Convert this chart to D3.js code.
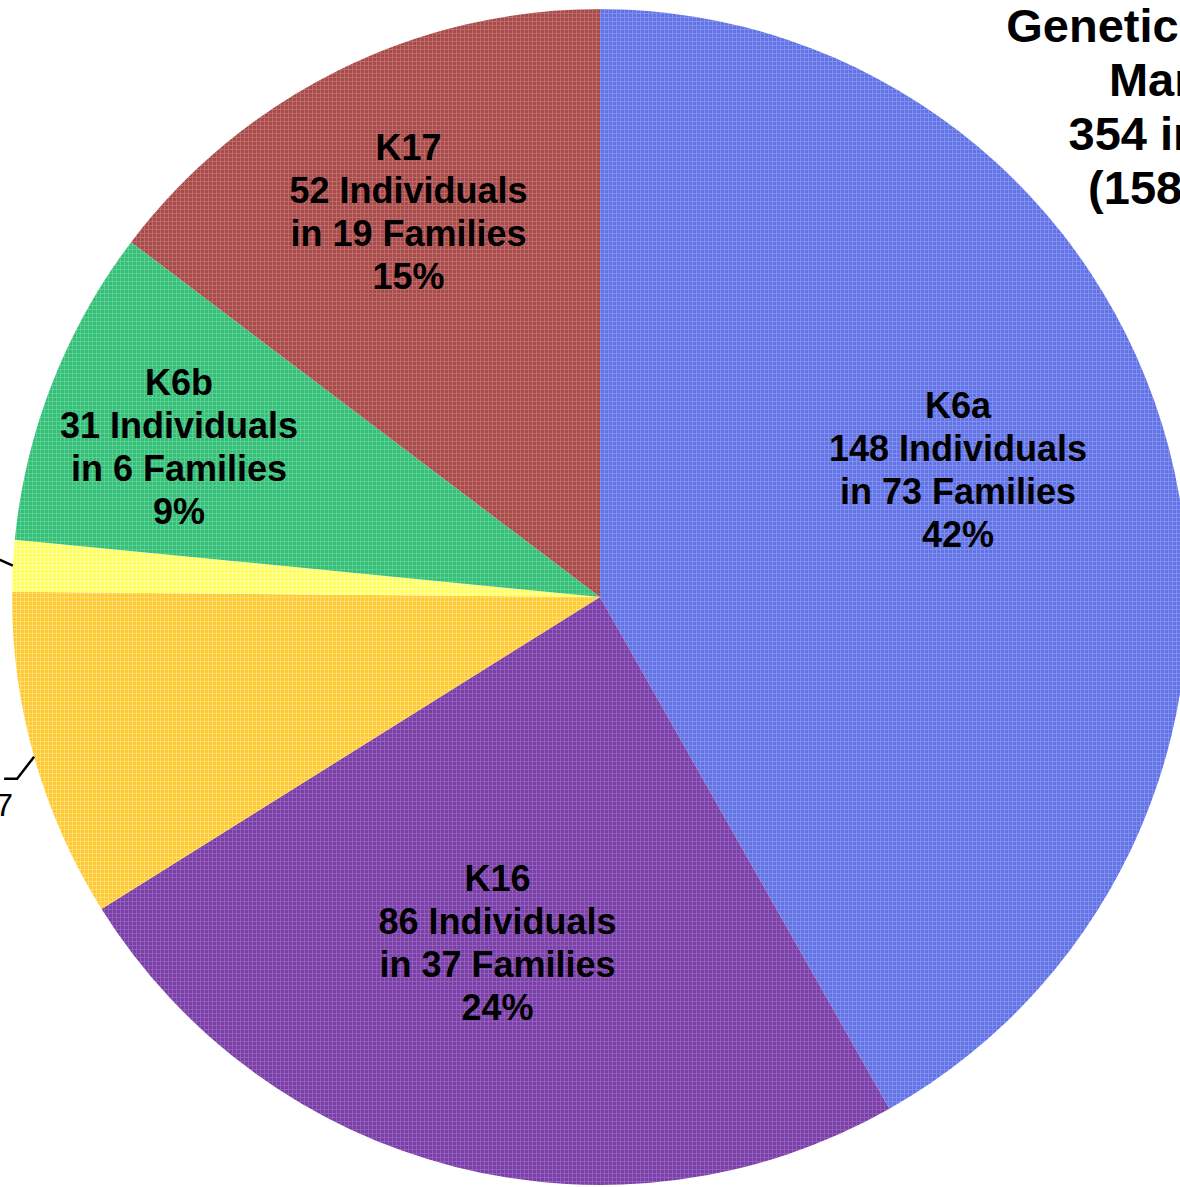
<!DOCTYPE html>
<html>
<head>
<meta charset="utf-8">
<script src="https://cdn.jsdelivr.net/npm/d3@7"></script>
<style>
  html, body { margin: 0; padding: 0; background: #fff; overflow: hidden; }
  svg { display: block; }
</style>
</head>
<body>
<svg id="chart" width="1180" height="1187"></svg>
<script>
// slices, clockwise from 12 o'clock
var categories = ['K6a', 'K16', 'K6a/K17', 'Other', 'K6b', 'K17'];
var individuals = [148, 86, 32, 5, 31, 52];
var families = [73, 37, 0, 0, 6, 19];
var baseColors = ['#6272e2', '#7a3fa6', '#ffc933', '#ffff55', '#35be78', '#a64a4a'];
var gridColors = ['#8090f0', '#9260ba', '#ffdd70', '#ffffaa', '#5ccf92', '#be6b6b'];
var titleLines = ['Genetic Test Results', 'March 2008', '354 individuals', '(158 families)'];

var svg = d3.select('#chart');
var cx = 600, cy = 597, R = 588;
var total = d3.sum(individuals);

var data = categories.map(function(c, i) {
  return {name: c, n: individuals[i], fam: families[i], i: i};
});

// dithered-looking fills
var defs = svg.append('defs');
data.forEach(function(d) {
  var p = defs.append('pattern')
    .attr('id', 'pat' + d.i)
    .attr('patternUnits', 'userSpaceOnUse')
    .attr('width', 4).attr('height', 4);
  p.append('rect').attr('width', 4).attr('height', 4).attr('fill', baseColors[d.i]);
  p.append('rect').attr('width', 1).attr('height', 4).attr('fill', gridColors[d.i]);
  p.append('rect').attr('width', 4).attr('height', 1).attr('fill', gridColors[d.i]);
});

var pie = d3.pie().sort(null).value(function(d) { return d.n; });
var arcs = pie(data);
var arc = d3.arc().innerRadius(0).outerRadius(R);

var g = svg.append('g').attr('transform', 'translate(' + cx + ',' + cy + ')');

g.selectAll('path.slice')
  .data(arcs)
  .enter().append('path')
  .attr('class', 'slice')
  .attr('d', arc)
  .attr('fill', function(d) { return 'url(#pat' + d.data.i + ')'; });

// inside labels (hand nudged radius / angle per slice, like the original)
var labelPos = {
  'K6a': {r: 380, da: -0.085},
  'K16': {r: 360, da: 0.04},
  'K6b': {r: 447, da: -0.03},
  'K17': {r: 430, da: 0.0}
};
var fmtPct = function(v) { return Math.round(v / total * 100) + '%'; };

arcs.forEach(function(a) {
  var lp = labelPos[a.data.name];
  if (!lp) return;
  var ang = (a.startAngle + a.endAngle) / 2 + lp.da;
  var x = lp.r * Math.sin(ang), y = -lp.r * Math.cos(ang);
  var lines = [a.data.name, a.data.n + ' Individuals', 'in ' + a.data.fam + ' Families', fmtPct(a.data.n)];
  var t = g.append('text')
    .attr('x', x).attr('y', y)
    .attr('text-anchor', 'middle')
    .style('font-family', '"Liberation Sans", Arial, sans-serif')
    .style('font-weight', 'bold')
    .style('font-size', '36px')
    .attr('fill', '#000');
  lines.forEach(function(s, k) {
    t.append('tspan')
      .attr('x', x)
      .attr('y', y + (k - 1.5) * 43 + 13)
      .text(s);
  });
});

// outside labels with leader lines (mostly cut off at the left edge)
var outside = {
  'K6a/K17': {bend: [-17, 22], end: [-30, 22], text: [-21, 59]},
  'Other': {bend: [-40, -18], end: [-60, -18], text: [-64, -8]}
};
arcs.forEach(function(a) {
  var o = outside[a.data.name];
  if (!o) return;
  var ang = (a.startAngle + a.endAngle) / 2;
  var x0 = R * Math.sin(ang), y0 = -R * Math.cos(ang);
  g.append('polyline')
    .attr('points', [[x0, y0], [x0 + o.bend[0], y0 + o.bend[1]], [x0 + o.end[0], y0 + o.end[1]]].join(' '))
    .attr('fill', 'none')
    .attr('stroke', '#000')
    .attr('stroke-width', 2.5);
  g.append('text')
    .attr('x', x0 + o.text[0]).attr('y', y0 + o.text[1])
    .attr('text-anchor', 'end')
    .style('font-family', '"Liberation Sans", Arial, sans-serif')
    .style('font-size', '32px')
    .attr('fill', '#000')
    .text(a.data.name);
});

// title, centred beyond the right edge
var title = svg.append('text')
  .attr('text-anchor', 'middle')
  .style('font-family', '"Liberation Sans", Arial, sans-serif')
  .style('font-weight', 'bold')
  .style('font-size', '47px')
  .attr('fill', '#000');
titleLines.forEach(function(s, k) {
  title.append('tspan')
    .attr('x', 1237)
    .attr('y', 42 + k * 54)
    .text(s);
});
</script>
</body>
</html>
